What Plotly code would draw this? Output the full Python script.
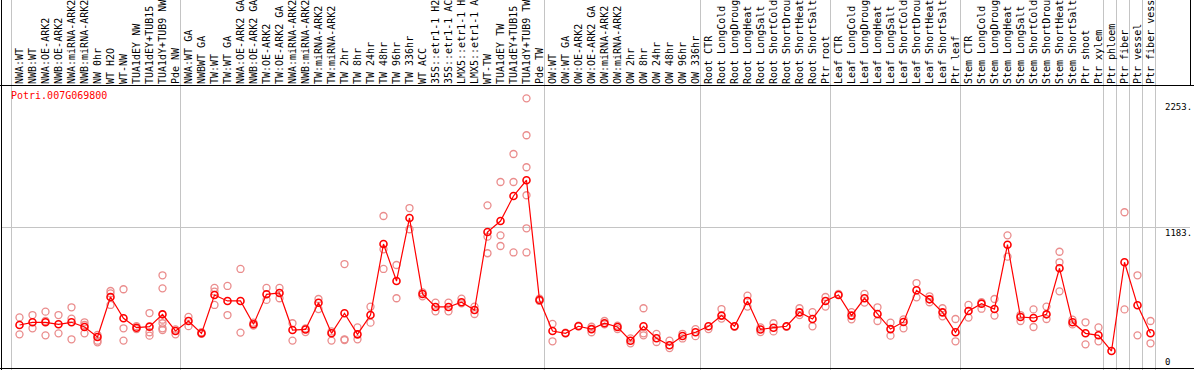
import plotly.graph_objects as go

categories = [
    "NWA:WT", "NWB:WT", "NWA:OE-ARK2", "NWB:OE-ARK2", "NWA:miRNA-ARK2", "NWB:miRNA-ARK2",
    "NW 0hr", "WT H2O", "WT-NW", "TUA1dEY NW", "TUA1dEY+TUB15 NW", "TUA1dY+TUB9 NW", "Pde NW",
    "NWA:WT GA", "NWBWT GA", "TW:WT", "TW:WT GA", "NWA:OE-ARK2 GA", "NWB:OE-ARK2 GA",
    "TW:OE-ARK2", "TW:OE-ARK2 GA", "NWA:miRNA-ARK2 GA", "NWB:miRNA-ARK2 GA", "TW:miRNA-ARK2",
    "TW:miRNA-ARK2", "TW 2hr", "TW 8hr", "TW 24hr", "TW 48hr", "TW 96hr", "TW 336hr", "WT ACC",
    "35S::etr1-1 H2O", "35S::etr1-1 ACC", "LMX5::etr1-1 H2O", "LMX5::etr1-1 ACC", "WT-TW",
    "TUA1dEY TW", "TUA1dEY+TUB15 TW", "TUA1dY+TUB9 TW", "Pde TW",
    "OW:WT", "OW:WT GA", "OW:OE-ARK2", "OW:OE-ARK2 GA", "OW:miRNA-ARK2", "OW:miRNA-ARK2",
    "OW 2hr", "OW 8hr", "OW 24hr", "OW 48hr", "OW 96hr", "OW 336hr",
    "Root CTR", "Root LongCold", "Root LongDrought", "Root LongHeat", "Root LongSalt",
    "Root ShortCold", "Root ShortDrought", "Root ShortHeat", "Root ShortSalt", "Ptr root",
    "Leaf CTR", "Leaf LongCold", "Leaf LongDrought", "Leaf LongHeat", "Leaf LongSalt",
    "Leaf ShortCold", "Leaf ShortDrought", "Leaf ShortHeat", "Leaf ShortSalt", "Ptr leaf",
    "Stem CTR", "Stem LongCold", "Stem LongDrought", "Stem LongHeat", "Stem LongSalt",
    "Stem ShortCold", "Stem ShortDrought", "Stem ShortHeat", "Stem ShortSalt", "Ptr shoot",
    "Ptr xylem", "Ptr phloem", "Ptr fiber", "Ptr vessel", "Ptr fiber vessel",
]

mean_values = [
    355, 378, 378, 361, 378, 338, 253, 594, 412, 332, 341, 446, 304,
    389, 284, 611, 560, 560, 361, 617, 628, 312, 317, 545, 284, 455, 275, 440,
    1046, 730, 1268, 620, 509, 509, 549, 483, 1148, 1242, 1456, 1590, 568,
    304, 284, 344, 320, 370, 338, 221, 344, 242, 182, 261, 293,
    344, 435, 344, 560, 317, 332, 344, 463, 406, 560,
    611, 435, 583, 449, 320, 381, 651, 574, 463, 293,
    474, 537, 491, 1040, 423, 415, 446, 839, 378, 284,
    267, 133, 890, 523, 284,
]

replicate_values = [
    [420, 275], [440, 327], [469, 267, 390], [440, 284], [506, 409, 233], [378, 284, 355],
    [221, 207, 270], [645, 526, 625], [660, 327, 222], [345, 320], [457, 293, 264],
    [779, 668, 400, 370, 327, 312], [317, 275],
    [424, 345], [293, 280], [671, 526, 640], [688, 440], [833, 290], [375, 350],
    [671, 569], [671, 583], [370, 222], [295, 325], [577, 491], [222, 300],
    [875, 227, 233], [334, 233], [511, 375], [1285, 1001, 833], [867, 583],
    [1353, 1172], [633, 600], [546, 472], [546, 472], [580, 540], [449, 512],
    [1376, 1109, 967], [1575, 1120, 1029], [1814, 1575, 974],
    [2289, 1974, 1701, 1462, 1180, 974], [580, 560],
    [365, 216], [290], [350], [293, 340], [389, 360], [350, 320], [240, 199],
    [498, 284, 267], [279, 210], [221, 158], [280, 240], [320, 260],
    [320], [491, 410], [340], [605, 512], [334, 295], [370, 300], [340],
    [498, 440], [464, 344], [594, 512],
    [620], [464, 403], [620, 546], [506, 389], [375, 264], [403, 327],
    [713, 591], [600, 549], [498, 429], [406, 216],
    [526, 418], [550, 494], [577, 435], [1120, 938], [389, 440], [488, 338],
    [512, 406], [980, 890, 642], [400, 360], [378, 190],
    [334, 216], [], [1317, 488], [779, 267], [389, 199],
]

gene_name = "Potri.007G069800"
y_axis_labels = ["2253.", "1183.", "0"]
grid_value = 1183
# groups start before these category indices (0-based); last one is the end line
separator_before = [0, 13, 41, 53, 63, 73, 84, 85, 86, 87, 88]

W, H = 1194, 370
L, R, T, B = 1, 4, 85, 1
pw, ph = W - L - R, H - T - B
step = 13.0
first_px = 19.5
x0 = (L - first_px) / step
x1 = (L + pw - first_px) / step
zero_px = 366.6
px_per_unit = 0.1172
y0 = (zero_px - (H - B)) / px_per_unit
y1 = (zero_px - T) / px_per_unit

xs = list(range(len(categories)))
rx, ry = [], []
for i, vals in enumerate(replicate_values):
    for v in vals:
        rx.append(i)
        ry.append(v)

fig = go.Figure()
fig.add_trace(go.Scatter(
    x=rx, y=ry, mode="markers",
    marker=dict(symbol="circle-open", size=7, color="#EA8C8C", line=dict(width=1.3, color="#EA8C8C")),
    hoverinfo="skip", showlegend=False,
))
fig.add_trace(go.Scatter(
    x=xs, y=mean_values, mode="lines+markers",
    line=dict(color="#FF0000", width=1.2),
    marker=dict(symbol="circle-open", size=7, color="#FF0000", line=dict(width=1.6, color="#FF0000")),
    showlegend=False,
))

def xpaper(xv):
    return (xv - x0) / (x1 - x0)

def ypaper_px(py):
    return ((H - B) - py) / ph

shapes = []
for k in separator_before:
    xp = xpaper(k - 8.0 / step)
    shapes.append(dict(type="line", xref="paper", yref="paper", x0=xp, x1=xp,
                       y0=ypaper_px(H), y1=ypaper_px(0), layer="below",
                       line=dict(color="#C4C4C4", width=1)))
# frame lines
shapes.append(dict(type="line", xref="paper", yref="paper", x0=(1.5 - L) / pw,
                   x1=(1.5 - L) / pw, y0=ypaper_px(H), y1=ypaper_px(0),
                   line=dict(color="black", width=1)))
shapes.append(dict(type="line", xref="paper", yref="paper", x0=-L / pw, x1=(W - L) / pw,
                   y0=ypaper_px(85.5), y1=ypaper_px(85.5), line=dict(color="black", width=1)))
shapes.append(dict(type="line", xref="paper", yref="paper", x0=-L / pw, x1=(W - L) / pw,
                   y0=ypaper_px(368.5), y1=ypaper_px(368.5), line=dict(color="black", width=1)))
shapes.append(dict(type="line", xref="paper", yref="paper", x0=(1190.5 - L) / pw, x1=(1190.5 - L) / pw,
                   y0=ypaper_px(85.5), y1=ypaper_px(0), line=dict(color="black", width=1)))

annotations = [
    dict(text=gene_name, xref="paper", yref="paper", x=(9 - L) / pw, y=ypaper_px(96),
         xanchor="left", yanchor="middle", showarrow=False,
         font=dict(family="DejaVu Sans Mono", size=10, color="#FF0000")),
]
for lab, py in zip(y_axis_labels, [107.3, 232.7, 361.7]):
    annotations.append(dict(text=lab, xref="paper", yref="paper", x=(1163 - L) / pw, y=ypaper_px(py),
                            xanchor="left", yanchor="middle", showarrow=False,
                            font=dict(family="DejaVu Sans Mono", size=9, color="black")))

fig.update_layout(
    width=W, height=H,
    margin=dict(l=L, r=R, t=T, b=B, pad=0),
    paper_bgcolor="white", plot_bgcolor="white",
    shapes=shapes, annotations=annotations,
    xaxis=dict(range=[x0, x1], side="top", tickmode="array", tickvals=xs, ticktext=categories,
               tickangle=-90, showgrid=False, zeroline=False, showline=False, ticks="",
               automargin=False, fixedrange=True,
               tickfont=dict(family="DejaVu Sans Mono", size=10, color="black")),
    yaxis=dict(range=[y0, y1], tickmode="array", tickvals=[grid_value], showticklabels=False,
               showgrid=True, gridcolor="#C4C4C4", gridwidth=1, zeroline=False, showline=False,
               automargin=False, fixedrange=True),
)

fig.write_html("out.html", config={"displayModeBar": False},
               post_script="document.body.style.margin='0';document.body.style.overflow='hidden';")
